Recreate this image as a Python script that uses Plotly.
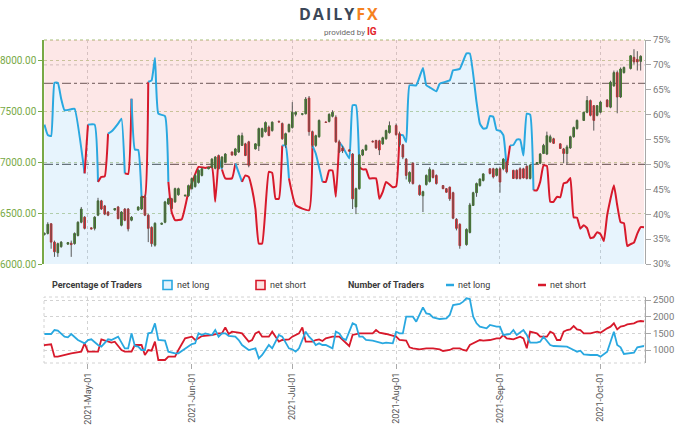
import datetime as dt
import plotly.graph_objects as go

# ---------------- data ----------------
# % of IG clients net long (right axis)
pct_dates = ["04-18","04-19","04-20","04-21","04-22","04-23","04-24","04-26","04-27","04-30",
 "05-01","05-03","05-04","05-05","05-06","05-07","05-08","05-10","05-11","05-12","05-13","05-14","05-15","05-16","05-17","05-18","05-19","05-20","05-21","05-22","05-24","05-25","05-26","05-27","05-29","05-31",
 "06-01","06-03","06-05","06-07","06-08","06-09","06-10","06-11","06-13","06-14","06-16","06-17","06-18","06-19","06-20","06-21","06-22","06-24","06-25","06-26","06-27","06-28","06-29","06-30",
 "07-02","07-06","07-07","07-08","07-10","07-11","07-12","07-13","07-14","07-15","07-16","07-18","07-19","07-20","07-21","07-22","07-23","07-24","07-26","07-27","07-28","07-29","07-31",
 "08-01","08-02","08-03","08-04","08-05","08-07","08-09","08-10","08-11","08-13","08-14","08-17","08-18","08-20","08-22","08-23","08-25","08-26","08-27","08-28","08-29","08-30","08-31",
 "09-01","09-02","09-03","09-04","09-05","09-06","09-07","09-08","09-09","09-10","09-11","09-12","09-13","09-14","09-15","09-16","09-17","09-18","09-19","09-20","09-21","09-22","09-23","09-24","09-25","09-26","09-27","09-28","09-29","09-30",
 "10-01","10-02","10-03","10-05","10-06","10-07","10-08","10-09","10-10","10-11","10-12","10-13","10-14"]
pct_net_long = [58.0,55.9,55.7,66.4,66.4,63.2,60.9,61.1,61.2,48.2,
 58.0,58.0,46.5,47.5,47.6,56.2,56.6,58.2,59.2,48.2,48.1,63.2,53.0,52.9,43.5,43.5,66.6,66.9,71.4,60.2,59.7,46.5,40.4,38.8,39.0,44.5,
 46.2,49.5,49.3,49.5,42.5,51.5,49.0,47.2,47.2,50.2,46.5,47.8,47.5,45.0,41.0,34.1,34.1,48.5,48.3,43.1,43.1,53.8,53.8,47.2,
 41.8,40.8,53.8,52.2,46.5,46.5,48.8,48.8,43.5,54.5,53.6,51.2,61.9,61.9,49.5,49.0,49.0,47.2,47.2,43.1,44.5,46.5,45.4,
 45.6,55.9,55.9,54.5,65.9,65.9,69.4,65.9,65.5,64.7,66.2,66.9,68.9,69.2,72.3,72.3,62.5,58.2,57.2,57.3,59.7,59.6,56.9,
 56.8,55.9,49.2,53.8,53.9,55.0,55.0,51.8,60.2,60.0,44.8,44.8,46.5,49.8,49.7,42.5,42.5,43.5,43.4,46.2,46.4,47.3,39.4,39.3,37.1,37.8,37.2,35.2,35.4,36.4,
 36.0,34.6,39.8,45.8,41.8,38.4,38.2,33.6,34.0,34.3,36.1,37.4,37.4]

# number of traders (lower panel)
long_dates = ["04-18","04-20","04-21","04-22","04-24","04-25","04-26","04-28","04-30",
 "05-01","05-02","05-04","05-05","05-07","05-08","05-09","05-10","05-12","05-13","05-14","05-15","05-16","05-17","05-18","05-19","05-20","05-21","05-22","05-23","05-24","05-25","05-27","05-28","05-30",
 "06-01","06-02","06-03","06-04","06-05","06-07","06-08","06-09","06-10","06-11","06-12","06-14","06-15","06-16","06-18","06-20","06-21","06-22","06-24","06-25","06-27","06-28","06-30",
 "07-01","07-02","07-03","07-05","07-06","07-07","07-08","07-09","07-10","07-11","07-13","07-14","07-15","07-16","07-17","07-19","07-20","07-21","07-22","07-23","07-25","07-26","07-28","07-29","07-31",
 "08-01","08-02","08-03","08-04","08-06","08-07","08-09","08-10","08-11","08-12","08-14","08-16","08-17","08-18","08-20","08-21","08-22","08-23","08-24","08-25","08-26","08-28","08-29","08-31",
 "09-01","09-02","09-04","09-05","09-06","09-08","09-09","09-10","09-12","09-13","09-14","09-16","09-17","09-19","09-21","09-23","09-24","09-25","09-26","09-28","09-30",
 "10-01","10-03","10-04","10-05","10-06","10-07","10-08","10-09","10-10","10-11","10-12","10-13","10-14"]
long_traders = [1480,1480,1600,1580,1400,1380,1480,1300,1200,
 1300,1320,1150,1100,1320,1300,1350,1400,1050,1050,1500,1120,1100,1000,1000,1500,1520,1800,1300,1280,1280,950,900,900,1050,
 1180,1200,1500,1450,1500,1450,1600,1400,1500,1500,1420,1400,1300,1150,1000,1050,750,850,1150,1050,1450,1400,1050,
 1020,950,1050,1550,1400,1300,1150,1200,1150,1150,1050,1550,1500,1350,1300,1800,1750,1400,1400,1300,1280,1250,1200,1220,1200,
 1550,1500,1500,2000,2000,1850,2280,2100,2080,1980,1930,1950,2050,2350,2380,2450,2550,2530,2000,1800,1700,1650,1750,1700,
 1700,1450,1480,1600,1450,1600,1450,1220,1220,1250,1400,1150,1120,1100,1100,1000,950,980,870,850,850,
 800,950,1250,1550,1150,1080,880,900,900,920,1080,1110,1120]

short_dates = ["04-17","04-18","04-20","04-21","04-22","04-24","04-26","04-29","04-30",
 "05-01","05-04","05-05","05-08","05-09","05-11","05-12","05-14","05-15","05-17","05-18","05-19","05-20","05-21","05-22","05-24","05-25","05-27","05-28","05-29","05-30",
 "06-01","06-02","06-03","06-04","06-07","06-09","06-10","06-11","06-12","06-13","06-15","06-16","06-18","06-19","06-20","06-21","06-22","06-24","06-25","06-26","06-27","06-28","06-30",
 "07-01","07-02","07-03","07-04","07-05","07-07","07-08","07-09","07-10","07-11","07-13","07-15","07-16","07-17","07-18","07-19","07-21","07-24","07-25","07-26","07-27","07-29","07-31",
 "08-01","08-02","08-04","08-05","08-06","08-08","08-10","08-12","08-14","08-15","08-17","08-18","08-20","08-21","08-22","08-23","08-25","08-26","08-27","08-29","08-31",
 "09-01","09-02","09-03","09-05","09-06","09-07","09-08","09-09","09-10","09-11","09-12","09-13","09-15","09-16","09-17","09-18","09-19","09-20","09-21","09-22","09-23","09-24","09-25","09-26","09-28","09-30",
 "10-01","10-03","10-04","10-05","10-06","10-07","10-08","10-09","10-10","10-11","10-12","10-13","10-14"]
short_traders = [1050,1150,1170,800,800,850,900,950,1200,
 950,950,1320,1220,1250,1000,950,950,1150,1150,850,1000,980,1250,700,700,800,800,1000,1200,1350,
 1400,1300,1350,1420,1450,1500,1500,1680,1480,1550,1520,1500,1250,1300,1500,1550,1400,1400,1550,1400,1250,1300,1320,
 1400,1450,1500,1680,1250,1250,1300,1320,1270,1350,1400,1400,1300,1200,1120,1450,1500,1500,1500,1600,1520,1480,1420,
 1400,1300,1280,1080,1050,1020,1050,1050,1020,970,1000,1050,1050,1000,980,1150,1250,1300,1280,1300,1350,
 1350,1450,1350,1320,1350,1400,1350,1050,1550,1520,1500,1400,1400,1550,1500,1300,1300,1550,1600,1620,1720,1620,1600,1500,1500,1550,
 1520,1650,1700,1800,1620,1700,1720,1770,1780,1800,1850,1870,1860]

# daily candles (Sun-Fri sessions, 18 Apr - 13 Oct 2021)
candle_open = [6290,6300,6395,6215,6110,6170, 6195,6205,6200,6280,6410,6460, 6355,6350,6480,6620,6570,6510,
 6530,6560,6380,6540,6540,6430, 6530,6540,6660,6480,6360,6185, 6390,6410,6590,6640,6610,6680,
 6670,6670,6740,6760,6800,6870, 6935,6950,6940,7065,6950,7000, 7100,7070,7100,7165,7180,7200,
 7130,7160,7250,7300,7345,7310, 7400,7380,7170,7300,7340,7470, 7470,7475,7630,7300,7165,7250,
 7395,7400,7450,7440,7200,7140, 7120,7080,6560,6740,7070,7120, 7205,7213,7210,7180,7230,7290,
 7360,7280,7170,7030,6810,6990, 6770,6670,6780,6810,6920,6870, 6770,6740,6755,6700,6440,6390,
 6190,6310,6575,6700,6770,6820, 6935,6935,6870,6935,6935,7000, 6920,6920,6935,6935,6960,6840,
 6985,6990,7085,7080,7200,7230, 7180,7130,7085,7140,7250,7330, 7410,7490,7605,7555,7460,7490,
 7610,7540,7750,7880,7640,7880, 7920,8030,8010,7990]
candle_high = [6310,6410,6400,6230,6210,6225, 6215,6230,6310,6420,6560,6470, 6360,6470,6650,6630,6580,6520,
 6550,6570,6520,6550,6550,6470, 6565,6670,6680,6490,6370,6410, 6405,6620,6650,6650,6750,6750,
 6680,6780,6850,6880,6930,6945, 6955,7040,7060,7075,7060,7090, 7105,7140,7270,7290,7190,7210,
 7185,7340,7340,7400,7360,7400, 7410,7390,7290,7380,7590,7500, 7480,7640,7650,7310,7270,7420,
 7400,7480,7510,7460,7220,7160, 7130,7090,6750,7080,7130,7175, 7215,7220,7220,7250,7320,7400,
 7380,7300,7180,7040,6910,7000, 6780,6720,6880,6950,6930,6880, 6775,6745,6760,6710,6450,6400,
 6350,6600,6710,6800,6840,6890, 6940,6945,6945,6950,7040,7010, 6925,6930,6950,6945,6970,6980,
 7000,7090,7180,7300,7270,7240, 7185,7140,7170,7260,7350,7420, 7495,7650,7615,7560,7560,7600,
 7620,7800,7900,7900,7930,7940, 8050,8110,8090,8050]
candle_low = [6280,6290,6150,6070,6070,6160, 6190,6070,6190,6270,6400,6340, 6340,6330,6470,6530,6480,6470,
 6525,6440,6370,6420,6320,6420, 6525,6530,6470,6215,6170,6170, 6385,6400,6580,6540,6600,6670,
 6660,6660,6730,6750,6790,6860, 6930,6940,6930,6930,6940,6990, 7065,7060,7090,7160,7060,6950,
 7125,7110,7240,7290,7255,7300, 7390,7220,7140,7290,7330,7450, 7460,7470,7260,7150,7150,7240,
 7385,7390,7440,7190,7090,7090, 7100,6540,6490,6730,7060,7110, 7195,7130,7070,7170,7220,7280,
 7260,7150,7030,6830,6790,6780, 6670,6510,6770,6800,6840,6780, 6735,6700,6620,6440,6330,6150,
 6180,6300,6570,6660,6760,6810, 6880,6840,6860,6700,6920,6890, 6835,6830,6830,6840,6830,6830,
 6980,6980,7080,7070,7190,7180, 7130,6990,6980,7130,7240,7320, 7405,7480,7450,7310,7450,7480,
 7540,7530,7740,7480,7630,7870, 7910,7960,7900,7900]
candle_close = [6300,6390,6215,6120,6200,6215, 6210,6190,6300,6410,6540,6350, 6345,6460,6620,6540,6490,6480,
 6545,6445,6510,6430,6345,6460, 6560,6660,6480,6350,6200,6400, 6400,6610,6640,6545,6740,6740,
 6675,6770,6840,6870,6920,6935, 6950,7030,7050,6935,7050,7080, 7070,7130,7260,7260,7065,6970,
 7180,7330,7330,7390,7262,7393, 7395,7230,7280,7370,7490,7490, 7475,7620,7300,7165,7260,7410,
 7390,7470,7490,7200,7100,7110, 7110,6640,6740,7070,7120,7165, 7200,7140,7120,7240,7310,7360,
 7270,7170,7050,6870,6900,6790, 6680,6710,6870,6930,6850,6790, 6740,6705,6640,6450,6350,6180,
 6340,6580,6700,6790,6835,6885, 6890,6855,6935,6805,7030,6905, 6840,6840,6840,6845,6840,6970,
 6995,7080,7165,7260,7250,7185, 7135,7085,7150,7250,7340,7410, 7490,7605,7460,7410,7555,7590,
 7545,7785,7880,7640,7915,7930, 8045,7985,7985,8040]

price_ticks = [6000, 6500, 7000, 7500, 8000]
pct_ticks = [30, 35, 40, 45, 50, 55, 60, 65, 70, 75]
count_ticks = [1000, 1500, 2000, 2500]
month_ticks = ["2021-05-01", "2021-06-01", "2021-07-01", "2021-08-01", "2021-09-01", "2021-10-01"]

# ---------------- styling ----------------
BLUE = "#29a8e0"
RED = "#d7192b"
GREEN = "#78a946"
UP = "#3a7a22"
DN = "#d5282c"
WICK = "#585858"
GRAYTXT = "#7a7a7a"
W, H = 679, 425
ML, MR, MT, MB = 44, 34, 40, 62
PW, PH = W - ML - MR, H - MT - MB


def py(p):
    return (H - MB - p) / PH


def px(p):
    return (p - ML) / PW


full = lambda md: "2021-" + md
pdates = [full(d) for d in pct_dates]

d0 = dt.date(2021, 4, 18)
candle_dates = []
while d0 <= dt.date(2021, 10, 13):
    if d0.weekday() != 5:
        candle_dates.append(d0.isoformat())
    d0 += dt.timedelta(days=1)

fig = go.Figure()

# sentiment area fills
fig.add_trace(go.Scatter(x=pdates, y=pct_net_long, mode="lines", line=dict(width=0, shape="spline", smoothing=0.4),
                         fill="tozeroy", fillcolor="rgba(38,155,238,0.11)", hoverinfo="skip", xaxis="x", yaxis="y"))
fig.add_trace(go.Scatter(x=pdates, y=[75] * len(pdates), mode="lines", line=dict(width=0),
                         fill="tonexty", fillcolor="rgba(242,82,82,0.14)", hoverinfo="skip", xaxis="x", yaxis="y"))

# sentiment line, coloured by side
n = len(pct_net_long)
i = 0
while i < n - 1:
    is_long = pct_net_long[i] >= 50
    j = i
    while j + 1 < n - 1 and (pct_net_long[j + 1] >= 50) == is_long:
        j += 1
    fig.add_trace(go.Scatter(x=pdates[i:j + 2], y=pct_net_long[i:j + 2], mode="lines",
                             line=dict(color=BLUE if is_long else RED, width=2, shape="spline", smoothing=0.4),
                             hoverinfo="skip", xaxis="x", yaxis="y"))
    i = j + 1

# candles: wicks then bodies
wx, wy = [], []
for d, lo, hi in zip(candle_dates, candle_low, candle_high):
    wx += [d, d, None]
    wy += [lo, hi, None]
fig.add_trace(go.Scatter(x=wx, y=wy, mode="lines", line=dict(color=WICK, width=1),
                         hoverinfo="skip", xaxis="x", yaxis="y2"))
m = min(len(candle_dates), len(candle_open), len(candle_close))
body_hi = [max(o, c) for o, c in zip(candle_open[:m], candle_close[:m])]
body_lo = [min(o, c) for o, c in zip(candle_open[:m], candle_close[:m])]
fig.add_trace(go.Candlestick(x=candle_dates[:m], open=candle_open[:m], high=body_hi, low=body_lo,
                             close=candle_close[:m], xaxis="x", yaxis="y2", whiskerwidth=0,
                             increasing=dict(line=dict(color=UP, width=1), fillcolor=UP),
                             decreasing=dict(line=dict(color=DN, width=1), fillcolor=DN),
                             hoverinfo="skip"))

# number of traders
fig.add_trace(go.Scatter(x=[full(d) for d in short_dates], y=short_traders, mode="lines",
                         line=dict(color=RED, width=1.8), hoverinfo="skip", xaxis="x2", yaxis="y3"))
fig.add_trace(go.Scatter(x=[full(d) for d in long_dates], y=long_traders, mode="lines",
                         line=dict(color=BLUE, width=1.8), hoverinfo="skip", xaxis="x2", yaxis="y3"))

XR = ["2021-04-17 21:00", "2021-10-14 07:00"]
D_MAIN = [py(264), 1]
D_LOW = [0, py(297)]

fig.update_layout(
    width=W, height=H, margin=dict(l=ML, r=MR, t=MT, b=MB, autoexpand=False),
    paper_bgcolor="white", plot_bgcolor="white", showlegend=False,
    font=dict(family="Roboto, Arial, sans-serif", size=9, color="#555"),
    xaxis=dict(domain=[0, 1], anchor="y", type="date", range=XR, showticklabels=False, ticks="",
               tickvals=month_ticks, showgrid=True, gridcolor="#d2d2d2", griddash="dot", gridwidth=1,
               zeroline=False, showline=False, automargin=False, rangeslider=dict(visible=False)),
    yaxis=dict(domain=D_MAIN, anchor="x", side="right", range=[30, 75], tickvals=pct_ticks,
               ticktext=[f"{v}%" for v in pct_ticks], showgrid=False, zeroline=False, automargin=False,
               showline=True, linecolor="#a8a8a8", linewidth=1, ticks="outside", ticklen=5,
               tickcolor="#a8a8a8", tickfont=dict(color=GRAYTXT, size=9.5)),
    yaxis2=dict(overlaying="y", anchor="x", side="left", range=[6000, 8200], tickvals=price_ticks,
                ticktext=[f"{v:.2f}" for v in price_ticks], showgrid=True, gridcolor="#c3d4a5",
                griddash="dot", gridwidth=1.3, zeroline=False, showline=True, linecolor=GREEN,
                linewidth=1.5, ticks="outside", ticklen=4, tickcolor=GREEN, automargin=False,
                tickfont=dict(color=GREEN, size=10)),
    xaxis2=dict(domain=[0, 1], anchor="y3", type="date", range=XR, tickvals=month_ticks,
                tickformat="%Y-%b-%d", tickangle=-90, ticks="outside", ticklen=5, tickcolor="#aaaaaa",
                showgrid=True, gridcolor="#d2d2d2", griddash="dot", zeroline=False, showline=False,
                automargin=False, tickfont=dict(size=9, color="#555"), rangeslider=dict(visible=False)),
    yaxis3=dict(domain=D_LOW, anchor="x2", side="right", range=[610, 2590], tickvals=count_ticks,
                showgrid=True, gridcolor="#d2d2d2", griddash="dot", zeroline=False, showline=True,
                linecolor="#a8a8a8", ticks="outside", ticklen=5, tickcolor="#a8a8a8", automargin=False,
                tickfont=dict(size=9.5, color=GRAYTXT)),
)

shapes = [
    # top border of the price panel
    dict(type="line", xref="x domain", yref="y domain", x0=0, x1=1, y0=1, y1=1,
         line=dict(color="#c3d4a5", width=1.3, dash="dot"), layer="below"),
    # percentage reference lines
    dict(type="line", xref="x domain", yref="y", x0=0, x1=1, y0=70, y1=70,
         line=dict(color="#cccccc", width=1, dash="dot"), layer="below"),
    dict(type="line", xref="x domain", yref="y", x0=0, x1=1, y0=50, y1=50,
         line=dict(color="#6e6e6e", width=1.3, dash="dashdot"), layer="below"),
    dict(type="line", xref="x domain", yref="y", x0=0, x1=1, y0=66.3, y1=66.3,
         line=dict(color="#7a7a7a", width=1.3, dash="dashdot"), layer="below"),
    # lower panel frame
    dict(type="rect", xref="x2 domain", yref="y3 domain", x0=0, x1=1, y0=0, y1=1,
         line=dict(color="#d2d2d2", width=1, dash="dot"), layer="below"),
    # legend keys
    dict(type="rect", xref="paper", yref="paper", x0=px(163), x1=px(172), y0=py(289.5), y1=py(280.5),
         line=dict(color=BLUE, width=1.6), fillcolor="#e3f3fd"),
    dict(type="rect", xref="paper", yref="paper", x0=px(256), x1=px(265), y0=py(289.5), y1=py(280.5),
         line=dict(color=RED, width=1.6), fillcolor="#fde3e3"),
    dict(type="line", xref="paper", yref="paper", x0=px(446), x1=px(454), y0=py(285), y1=py(285),
         line=dict(color=BLUE, width=2.5)),
    dict(type="line", xref="paper", yref="paper", x0=px(538), x1=px(546), y0=py(285), y1=py(285),
         line=dict(color=RED, width=2.5)),
]
fig.update_layout(shapes=shapes)

LEG_Y = py(285)
ann = [
    dict(text="<b>Percentage of Traders</b>", x=px(50), xanchor="left"),
    dict(text="net long", x=px(175), xanchor="left"),
    dict(text="net short", x=px(268), xanchor="left"),
    dict(text="<b>Number of Traders</b>", x=px(346), xanchor="left"),
    dict(text="net long", x=px(456), xanchor="left"),
    dict(text="net short", x=px(548), xanchor="left"),
]
for a in ann:
    fig.add_annotation(xref="paper", yref="paper", y=LEG_Y, yanchor="middle", showarrow=False,
                       font=dict(family="Roboto, Arial, sans-serif", size=9, color="#3a3a3a"), **a)

# header logo
fig.add_annotation(xref="paper", yref="paper", x=px(339), y=py(14), xanchor="center", yanchor="middle",
                   showarrow=False, borderpad=0,
                   text="<span style='letter-spacing:2px'><b>DAILY</b><b><span style='color:#f5821f'>FX</span></b></span>",
                   font=dict(family="Open Sans, Arial, sans-serif", size=16, color="#3b4758"))
fig.add_annotation(xref="paper", yref="paper", x=px(350), y=py(31.5), xanchor="center", yanchor="middle",
                   showarrow=False, borderpad=0,
                   text="provided by <span style='color:#e3232b;font-size:10px'><b>IG</b></span>",
                   font=dict(family="Roboto, Arial, sans-serif", size=8, color="#666"))

fig.write_html("out.html", config={"displayModeBar": False},
               post_script="document.body.style.margin='0';document.body.style.padding='0';")
